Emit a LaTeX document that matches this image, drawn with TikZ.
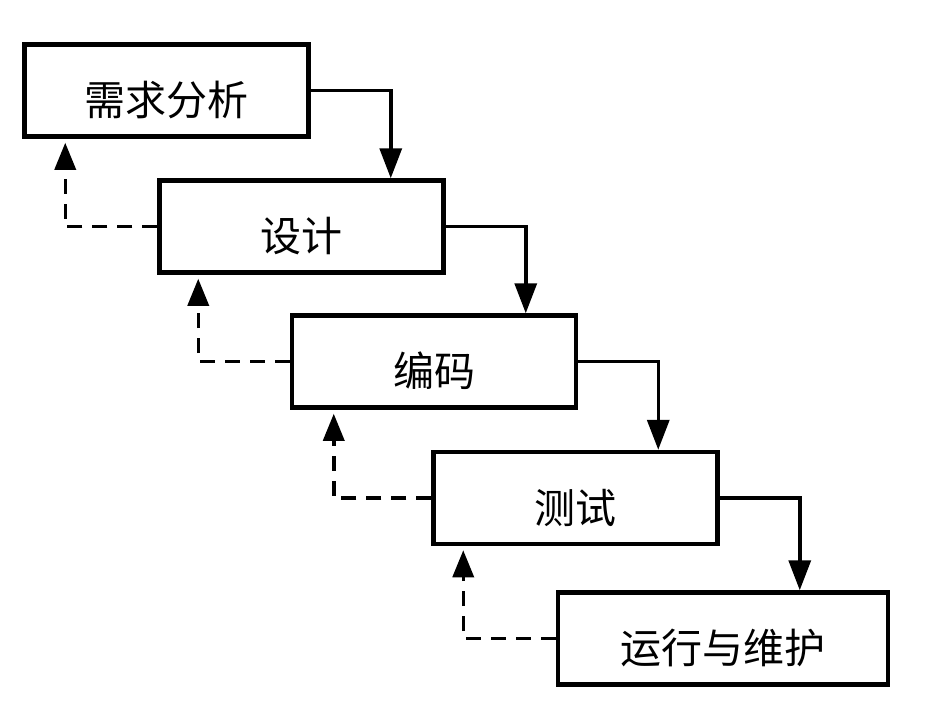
\documentclass[tikz,border=0pt]{standalone}
\usepackage{fontspec}
\newfontfamily\cjk{Noto Sans CJK SC}
\usepackage{tikz}
\usetikzlibrary{arrows.meta,positioning}

\tikzset{
  stage/.style={draw,line width=4.5pt,minimum width=284pt,minimum height=92pt,
    inner sep=0pt,text height=50pt,text depth=0pt,font=\cjk\fontsize{41}{41}\selectfont},
  flow/.style={line width=3.5pt,-{Triangle[length=30pt,width=22pt]}},
  back/.style={line width=3.5pt,dash pattern=on 15pt off 10pt,
    -{Triangle[length=27pt,width=21pt]},shorten >=4pt}
}

\begin{document}
\begin{tikzpicture}[x=1pt,y=-1pt]
\useasboundingbox(0,0)rectangle(936,706);
% les cinq etapes
\node[stage](b1)at(166.5,90.5){需求分析};
\node[stage](b2)at(301.5,226.5){设计};
\node[stage](b3)at(434,361.5){编码};
\node[stage](b4)at(575.5,498){测试};
\node[stage,minimum width=330pt](b5)at(723,638.5){运行与维护};
% fleches vers le bas
\foreach \up/\low in {b1/b2,b2/b3,b3/b4,b4/b5}
  \draw[flow](\up.east)-|([xshift=80pt]\up.east|-\low.north);
% retours en pointilles
\foreach \up/\low/\dx in {b1/b2/43,b2/b3/41,b3/b4/44,b4/b5/32}
  \draw[back](\low.west)-|([xshift=\dx pt]\up.south west);
\end{tikzpicture}
\end{document}
